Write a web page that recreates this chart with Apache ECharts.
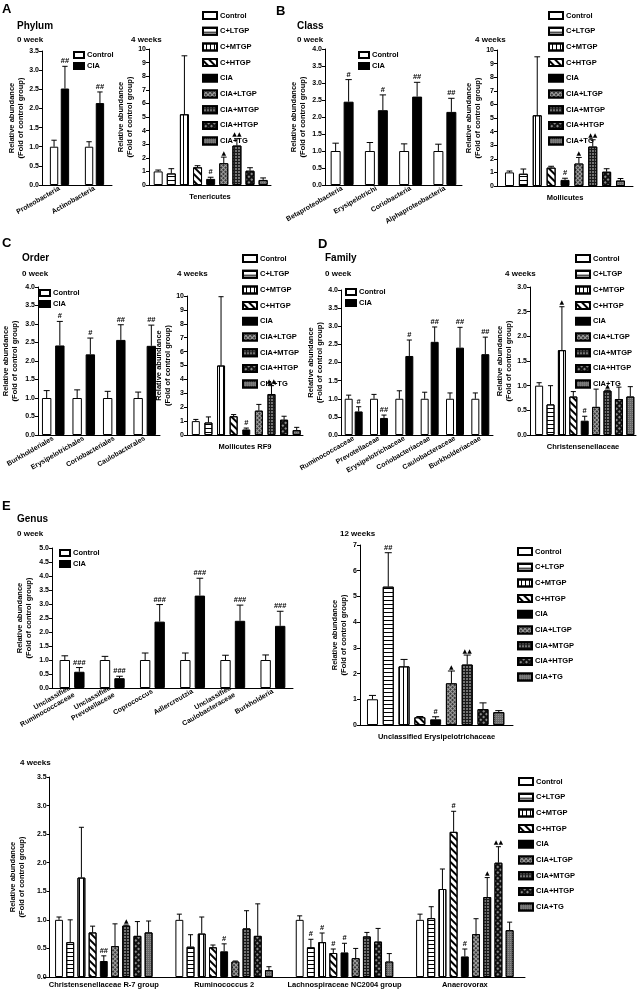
<!DOCTYPE html>
<html><head><meta charset="utf-8">
<script src="https://cdn.jsdelivr.net/npm/echarts@6/dist/echarts.min.js"></script>
<style>html,body{margin:0;padding:0;background:#fff}#c{width:641px;height:991px}</style>
</head><body><div id="c"></div>
<script>
// ---------------- DATA ----------------
const groupNames = ['Control','C+LTGP','C+MTGP','C+HTGP','CIA','CIA+LTGP','CIA+MTGP','CIA+HTGP','CIA+TG'];
const pairNames = ['Control','CIA'];

// A: Phylum, 0 week
const phylumCats = ['Proteobacteria','Actinobacteria'];
const phylumCtrl = [1.0, 1.0];
const phylumCtrlErr = [0.17, 0.13];
const phylumCIA = [2.52, 2.14];
const phylumCIAErr = [0.58, 0.29];
const phylumMarks = ['##','##'];
// A: Tenericutes, 4 weeks
const tenericutesVals = [1.0, 0.85, 5.2, 1.3, 0.45, 1.6, 2.9, 1.05, 0.37];
const tenericutesErr = [0.1, 0.35, 4.3, 0.12, 0.12, 0.45, 0.5, 0.22, 0.15];
const tenericutesMarks = ['','','','','#','▲','▲▲','',''];

// B: Class, 0 week
const classCats = ['Betaproteobacteria','Erysipelotrichi','Coriobacteria','Alphaproteobacteria'];
const classCtrl = [1.0, 1.0, 1.0, 1.0];
const classCtrlErr = [0.23, 0.25, 0.21, 0.2];
const classCIA = [2.45, 2.2, 2.6, 2.15];
const classCIAErr = [0.65, 0.45, 0.42, 0.4];
const classMarks = ['#','#','##','##'];
// B: Mollicutes, 4 weeks
const mollicutesVals = [1.0, 0.9, 5.2, 1.35, 0.45, 1.65, 2.9, 1.05, 0.4];
const mollicutesErr = [0.1, 0.35, 4.3, 0.1, 0.12, 0.45, 0.5, 0.22, 0.15];
const mollicutesMarks = ['','','','','#','▲','▲▲','',''];

// C: Order, 0 week
const orderCats = ['Burkholderiales','Erysipelotrichales','Coriobacteriales','Caulobacterales'];
const orderCtrl = [1.0, 1.0, 1.0, 1.0];
const orderCtrlErr = [0.2, 0.22, 0.18, 0.16];
const orderCIA = [2.42, 2.18, 2.57, 2.41];
const orderCIAErr = [0.65, 0.44, 0.41, 0.56];
const orderMarks = ['#','#','##','##'];
// C: Mollicutes RF9, 4 weeks
const rf9Vals = [1.0, 0.9, 5.0, 1.35, 0.4, 1.75, 2.95, 1.1, 0.35];
const rf9Err = [0.12, 0.4, 4.95, 0.12, 0.1, 0.45, 0.6, 0.25, 0.2];
const rf9Marks = ['','','','','#','','▲▲','',''];

// D: Family, 0 week
const familyCats = ['Ruminococcaceae','Prevotellaceae','Erysipelotrichaceae','Coriobacteriaceae','Caulobacteraceae','Burkholderiaceae'];
const familyCtrl = [1.0, 1.0, 1.0, 1.0, 1.0, 1.0];
const familyCtrlErr = [0.1, 0.12, 0.22, 0.18, 0.16, 0.16];
const familyCIA = [0.65, 0.47, 2.18, 2.57, 2.41, 2.23];
const familyCIAErr = [0.13, 0.08, 0.44, 0.41, 0.56, 0.47];
const familyMarks = ['#','##','#','##','##','##'];
// D: Christensenellaceae, 4 weeks
const chrisVals = [1.0, 0.62, 1.72, 0.78, 0.29, 0.57, 0.9, 0.73, 0.78];
const chrisErr = [0.06, 0.38, 0.88, 0.1, 0.09, 0.36, 0.01, 0.24, 0.2];
const chrisMarks = ['','','▲','','#','','▲','',''];

// E: Genus, 0 week
const genus0Cats = ['Unclassified\nRuminococcaceae','Unclassified\nPrevotellaceae','Coprococcus','Adlercreutzia','Unclassified\nCaulobacteraceae','Burkholderia'];
const genus0Ctrl = [1.0, 1.0, 1.0, 1.0, 1.0, 1.0];
const genus0CtrlErr = [0.15, 0.13, 0.25, 0.25, 0.17, 0.18];
const genus0CIA = [0.58, 0.35, 2.37, 3.3, 2.4, 2.22];
const genus0CIAErr = [0.15, 0.07, 0.61, 0.62, 0.56, 0.52];
const genus0Marks = ['###','###','###','###','###','###'];
// E: Unclassified Erysipelotrichaceae, 12 weeks
const erys12Vals = [1.0, 5.38, 2.28, 0.3, 0.22, 1.62, 2.35, 0.62, 0.5];
const erys12Err = [0.15, 1.32, 0.27, 0.03, 0.1, 0.48, 0.37, 0.24, 0.06];
const erys12Marks = ['','##','','','#','▲','▲▲','',''];
// E: Genus, 4 weeks
const genus4Cats = ['Christensenellaceae R-7 group','Ruminococcus 2','Lachnospiraceae NC2004 group','Anaerovorax'];
const genus4Control = [1.0, 1.0, 1.0, 1.0];
const genus4ControlErr = [0.05, 0.1, 0.07, 0.1];
const genus4ControlMarks = ['','','',''];
const genus4CLTGP = [0.61, 0.53, 0.52, 1.03];
const genus4CLTGPErr = [0.39, 0.21, 0.14, 0.2];
const genus4CLTGPMarks = ['','','#',''];
const genus4CMTGP = [1.74, 0.76, 0.61, 1.54];
const genus4CMTGPErr = [0.88, 0.29, 0.16, 0.35];
const genus4CMTGPMarks = ['','','#',''];
const genus4CHTGP = [0.78, 0.52, 0.42, 2.54];
const genus4CHTGPErr = [0.11, 0.04, 0.07, 0.36];
const genus4CHTGPMarks = ['','','#','#'];
const genus4CIA = [0.28, 0.45, 0.43, 0.36];
const genus4CIAErr = [0.09, 0.13, 0.16, 0.13];
const genus4CIAMarks = ['##','#','#','#'];
const genus4CIALTGP = [0.54, 0.27, 0.33, 0.75];
const genus4CIALTGPErr = [0.39, 0.01, 0.17, 0.27];
const genus4CIALTGPMarks = ['','','',''];
const genus4CIAMTGP = [0.9, 0.85, 0.71, 1.4];
const genus4CIAMTGPErr = [0.01, 0.31, 0.07, 0.34];
const genus4CIAMTGPMarks = ['▲','','','▲'];
const genus4CIAHTGP = [0.72, 0.72, 0.62, 2.0];
const genus4CIAHTGPErr = [0.25, 0.56, 0.23, 0.28];
const genus4CIAHTGPMarks = ['','','','▲▲'];
const genus4CIATG = [0.78, 0.12, 0.27, 0.82];
const genus4CIATGErr = [0.2, 0.06, 0.14, 0.14];
const genus4CIATGMarks = ['','','',''];

// ---------------- STYLE ----------------
const FONT = '"Liberation Sans", Arial, Helvetica, sans-serif';
const BW = 1;
const barStyles = [
  {color:'#ffffff', borderColor:'#000', borderWidth:BW},
  {color:'#ffffff', borderColor:'#000', borderWidth:BW, decal:{symbol:'rect', symbolSize:1, color:'#000', dashArrayX:[1,0], dashArrayY:[1,2.2], rotation:0}},
  {color:'#ffffff', borderColor:'#000', borderWidth:BW, decal:{symbol:'rect', symbolSize:1, color:'#000', dashArrayX:[1,0], dashArrayY:[1,2.2], rotation:Math.PI/2}},
  {color:'#ffffff', borderColor:'#000', borderWidth:BW, decal:{symbol:'rect', symbolSize:1, color:'#000', dashArrayX:[1,0], dashArrayY:[1.2,2.6], rotation:Math.PI/4}},
  {color:'#000000', borderColor:'#000', borderWidth:BW},
  {color:'#3a3a3a', borderColor:'#000', borderWidth:BW, decal:{symbol:'rect', symbolSize:1, color:'#a0a0a0', dashArrayX:[[1,0],[1,2],[1,2]], dashArrayY:[1,0], rotation:Math.PI/4}},
  {color:'#737373', borderColor:'#000', borderWidth:BW, decal:{symbol:'rect', symbolSize:1, color:'#1a1a1a', dashArrayX:[[1,0],[1,2],[1,2]], dashArrayY:[1,0], rotation:0}},
  {color:'#111111', borderColor:'#000', borderWidth:BW, decal:{symbol:'rect', symbolSize:1, color:'#8a8a8a', dashArrayX:[1.5,1.5], dashArrayY:[1.5,1.5], rotation:Math.PI/4}},
  {color:'#6a6a6a', borderColor:'#000', borderWidth:BW, decal:{symbol:'rect', symbolSize:1, color:'#8e8e8e', dashArrayX:[1,1], dashArrayY:[1,1], rotation:0}}
];
const pairStyles = [barStyles[0], barStyles[4]];

const grids = [], xAxes = [], yAxes = [], series = [], legends = [];

function textSty(size) { return {fontSize:size, fontWeight:'bold', fontFamily:FONT, color:'#000'}; }

function yAxisCfg(gi, o) {
  return {type:'value', gridIndex:gi, min:0, max:o.max, interval:o.interval, offset:o.yOffset||0,
    name:'Relative abundance\n(Fold of control group)', nameLocation:'middle', nameGap:o.nameGap, nameRotate:90,
    nameTextStyle:Object.assign(textSty(7.5), {lineHeight:9}),
    axisLine:{show:true, onZero:false, lineStyle:{color:'#000', width:1}},
    axisTick:{show:true, length:3, lineStyle:{color:'#000'}},
    axisLabel:Object.assign(textSty(7), {margin:3, formatter: v => o.dec ? v.toFixed(1) : String(v)}),
    splitLine:{show:false}};
}
function legendCfg(names, pos, small) {
  return {data:names, orient:'vertical', left:pos.left, top:pos.top, padding:0,
    itemWidth: small ? 10 : 14, itemHeight: small ? 6 : 7, itemGap: small ? 3 : 6.7,
    selectedMode:false, icon:'rect', textStyle:Object.assign(textSty(7.5), {padding:[0,0,0,-2]})};
}
function errRender(marks, n, catGap, barGap, barW) {
  return function (params, api) {
    const ci = api.value(0), v = api.value(1), e = api.value(2), j = api.value(3);
    const p0 = api.coord([ci, v]), p1 = api.coord([ci, v + e]);
    let cx = p0[0], w = barW;
    if (n > 1) {
      const band = api.size([1, 0])[0];
      const remained = band * (1 - catGap);
      w = remained / (n + (n - 1) * barGap);
      const total = n * w + (n - 1) * w * barGap;
      cx = p0[0] - total / 2 + j * w * (1 + barGap) + w / 2;
    }
    const half = Math.max(2.5, w * 0.32);
    const mk = marks[params.dataIndex] || '';
    const tri = mk.indexOf('▲') >= 0;
    return {type:'group', children:[
      {type:'line', shape:{x1:cx, y1:p0[1], x2:cx, y2:p1[1]}, style:{stroke:'#000', lineWidth:1}},
      {type:'line', shape:{x1:cx - half, y1:p1[1], x2:cx + half, y2:p1[1]}, style:{stroke:'#000', lineWidth:1}},
      {type:'text', style:{text:mk, x:cx, y:p1[1] - 1, align:'center', verticalAlign:'bottom',
        font:'bold ' + (tri ? 6 : 7.5) + 'px ' + (tri ? '"DejaVu Sans", sans-serif' : FONT), fill:'#000'}}
    ]};
  };
}

function pairChart(g, cats, ctrl, ctrlErr, cia, ciaErr, marks, o) {
  const gi = grids.length;
  grids.push({left:g.left, top:g.top, width:g.width, height:g.height});
  xAxes.push({type:'category', gridIndex:gi, data:cats,
    axisLine:{onZero:false, lineStyle:{color:'#000'}},
    axisTick:{alignWithLabel:true, length:3, lineStyle:{color:'#000'}},
    axisLabel:Object.assign(textSty(7), {rotate:30, margin:3, interval:0, lineHeight:8})});
  yAxes.push(yAxisCfg(gi, o));
  const vals = [ctrl, cia];
  vals.forEach((arr, j) => series.push({type:'bar', name:pairNames[j], xAxisIndex:gi, yAxisIndex:gi,
    data:arr, barGap:o.barGap, barCategoryGap:o.catGap, itemStyle:pairStyles[j], z:2, animation:false}));
  const errData = [], errMarks = [];
  cats.forEach((c, i) => {
    errData.push([i, ctrl[i], ctrlErr[i], 0]); errMarks.push('');
    errData.push([i, cia[i], ciaErr[i], 1]); errMarks.push(marks[i]);
  });
  series.push({type:'custom', name:'err' + gi, xAxisIndex:gi, yAxisIndex:gi, data:errData, z:5, clip:false, animation:false,
    encode:{x:0, y:1}, renderItem:errRender(errMarks, 2, parseFloat(o.catGap)/100, parseFloat(o.barGap)/100)});
  legends.push(legendCfg(pairNames, o.legend, true));
}

function singleChart(g, vals, errs, marks, o) {
  const gi = grids.length;
  grids.push({left:g.left, top:g.top, width:g.width, height:g.height});
  xAxes.push({type:'value', gridIndex:gi, min:o.xmin, max:o.xmax,
    axisLine:{onZero:false, lineStyle:{color:'#000'}}, axisTick:{show:false}, axisLabel:{show:false}, splitLine:{show:false},
    name:o.xname, nameLocation:'middle', nameGap:o.xnameGap || 8, nameTextStyle:textSty(7.5)});
  yAxes.push(yAxisCfg(gi, o));
  groupNames.forEach((nm, j) => series.push({type:'bar', name:nm, xAxisIndex:gi, yAxisIndex:gi,
    data:[[j, vals[j]]], barWidth:o.barW, barGap:'-100%', itemStyle:barStyles[j], z:2, animation:false}));
  const errData = vals.map((v, j) => [j, v, errs[j], 0]);
  series.push({type:'custom', name:'err' + gi, xAxisIndex:gi, yAxisIndex:gi, data:errData, z:5, clip:false, animation:false,
    encode:{x:0, y:1}, renderItem:errRender(marks, 1, 0, 0, o.barW)});
  legends.push(legendCfg(groupNames, o.legend, false));
}

function groupedChart(g, cats, valsList, errList, markList, o) {
  const gi = grids.length;
  grids.push({left:g.left, top:g.top, width:g.width, height:g.height});
  xAxes.push({type:'category', gridIndex:gi, data:cats,
    axisLine:{onZero:false, lineStyle:{color:'#000'}},
    axisTick:{alignWithLabel:true, length:3, lineStyle:{color:'#000'}},
    axisLabel:Object.assign(textSty(7.5), {margin:4, interval:0})});
  yAxes.push(yAxisCfg(gi, o));
  const errData = [], errMarks = [];
  valsList.forEach((arr, j) => {
    series.push({type:'bar', name:groupNames[j], xAxisIndex:gi, yAxisIndex:gi, data:arr,
      barGap:o.barGap, barCategoryGap:o.catGap, itemStyle:barStyles[j], z:2, animation:false});
    arr.forEach((v, i) => { errData.push([i, v, errList[j][i], j]); errMarks.push(markList[j][i]); });
  });
  series.push({type:'custom', name:'err' + gi, xAxisIndex:gi, yAxisIndex:gi, data:errData, z:5, clip:false, animation:false,
    encode:{x:0, y:1}, renderItem:errRender(errMarks, 9, parseFloat(o.catGap)/100, parseFloat(o.barGap)/100)});
  legends.push(legendCfg(groupNames, o.legend, false));
}

// ---------------- CHARTS ----------------
pairChart({left:42, top:51, width:70, height:134}, phylumCats, phylumCtrl, phylumCtrlErr, phylumCIA, phylumCIAErr, phylumMarks,
  {max:3.5, interval:0.5, dec:true, nameGap:17, catGap:'45%', barGap:'30%', legend:{left:73, top:51}});
singleChart({left:149, top:49, width:122, height:136}, tenericutesVals, tenericutesErr, tenericutesMarks,
  {max:10, interval:1, nameGap:12, xmin:-0.7, xmax:8.6, barW:9, xname:'Tenericutes', legend:{left:202, top:11}});
pairChart({left:325, top:49, width:137, height:136}, classCats, classCtrl, classCtrlErr, classCIA, classCIAErr, classMarks,
  {max:4, interval:0.5, dec:true, nameGap:18, catGap:'33%', barGap:'30%', legend:{left:358, top:51}});
singleChart({left:497, top:50, width:136, height:136}, mollicutesVals, mollicutesErr, mollicutesMarks,
  {max:10, interval:1, nameGap:11, xmin:-0.9, xmax:8.9, barW:9, xname:'Mollicutes', legend:{left:548, top:11}});
pairChart({left:35, top:287, width:125, height:148}, orderCats, orderCtrl, orderCtrlErr, orderCIA, orderCIAErr, orderMarks,
  {max:4, interval:0.5, dec:true, nameGap:19, catGap:'26%', barGap:'40%', legend:{left:39, top:289}});
singleChart({left:187, top:296, width:116, height:139}, rf9Vals, rf9Err, rf9Marks,
  {max:10, interval:1, nameGap:8, xmin:-0.7, xmax:8.5, barW:8, xname:'Mollicutes RF9', legend:{left:242, top:254}});
pairChart({left:341, top:290, width:152, height:145}, familyCats, familyCtrl, familyCtrlErr, familyCIA, familyCIAErr, familyMarks,
  {max:4, interval:0.5, dec:true, nameGap:16, catGap:'29%', barGap:'25%', legend:{left:345, top:288}});
singleChart({left:530, top:287, width:106, height:148}, chrisVals, chrisErr, chrisMarks,
  {max:3, interval:0.5, dec:true, nameGap:10, xmin:-0.8, xmax:8.5, barW:8, xname:'Christensenellaceae', legend:{left:575, top:254}});
pairChart({left:52, top:548, width:241, height:140}, genus0Cats, genus0Ctrl, genus0CtrlErr, genus0CIA, genus0CIAErr, genus0Marks,
  {max:5, interval:0.5, dec:true, nameGap:19, catGap:'38%', barGap:'40%', legend:{left:59, top:549}});
singleChart({left:360, top:545, width:153, height:180}, erys12Vals, erys12Err, erys12Marks,
  {max:7, interval:1, nameGap:12, xmin:-0.79, xmax:8.9, barW:11, xname:'Unclassified Erysipelotrichaceae', legend:{left:517, top:547}});
groupedChart({left:35, top:777, width:490, height:200}, genus4Cats,
  [genus4Control, genus4CLTGP, genus4CMTGP, genus4CHTGP, genus4CIA, genus4CIALTGP, genus4CIAMTGP, genus4CIAHTGP, genus4CIATG],
  [genus4ControlErr, genus4CLTGPErr, genus4CMTGPErr, genus4CHTGPErr, genus4CIAErr, genus4CIALTGPErr, genus4CIAMTGPErr, genus4CIAHTGPErr, genus4CIATGErr],
  [genus4ControlMarks, genus4CLTGPMarks, genus4CMTGPMarks, genus4CHTGPMarks, genus4CIAMarks, genus4CIALTGPMarks, genus4CIAMTGPMarks, genus4CIAHTGPMarks, genus4CIATGMarks],
  {max:3.5, interval:0.5, dec:true, nameGap:19, yOffset:-6, catGap:'19%', barGap:'42%', legend:{left:518, top:777}});

// panel texts
const panelTexts = [
  ['A', 2, 3, 13], ['Phylum', 17, 21, 10], ['0 week', 17, 36, 8], ['4 weeks', 131, 36, 8],
  ['B', 276, 5, 13], ['Class', 297, 21, 10], ['0 week', 297, 36, 8], ['4 weeks', 475, 36, 8],
  ['C', 2, 237, 13], ['Order', 22, 253, 10], ['0 week', 22, 270, 8], ['4 weeks', 177, 270, 8],
  ['D', 318, 238, 13], ['Family', 325, 253, 10], ['0 week', 325, 270, 8], ['4 weeks', 505, 270, 8],
  ['E', 2, 500, 13], ['Genus', 17, 514, 10], ['0 week', 17, 530, 8], ['12 weeks', 340, 530, 8], ['4 weeks', 20, 759, 8]
];
const graphics = panelTexts.map(t => ({type:'text', left:t[1], top:t[2],
  style:{text:t[0], font:'bold ' + t[3] + 'px ' + FONT, fill:'#000'}}));

const chart = echarts.init(document.getElementById('c'), null, {renderer:'canvas'});
chart.setOption({
  animation:false,
  backgroundColor:'#ffffff',
  textStyle:{fontFamily:FONT},
  grid:grids, xAxis:xAxes, yAxis:yAxes, series:series, legend:legends, graphic:graphics
});
</script></body></html>
